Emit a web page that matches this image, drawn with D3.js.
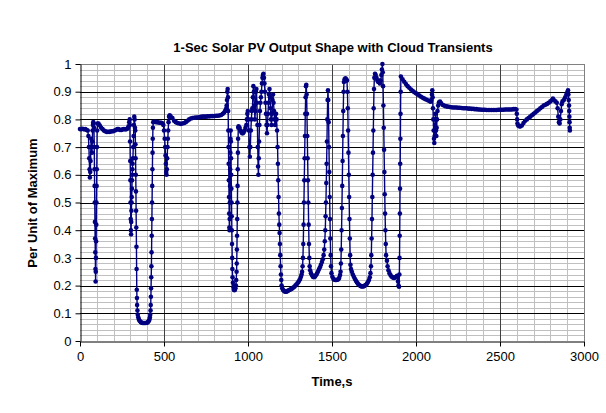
<!DOCTYPE html>
<html><head><meta charset="utf-8">
<script src="https://cdn.jsdelivr.net/npm/d3@7/dist/d3.min.js"></script>
<style>
html,body{margin:0;padding:0;background:#fff;}
text{font-family:"Liberation Sans",Arial,sans-serif;}
</style></head>
<body><svg id="chart" width="606" height="413"></svg>
<script>
const chartTitle = "1-Sec Solar PV Output Shape with Cloud Transients";
const xTitle = "Time,s";
const yTitle = "Per Unit of Maximum";
const xTicks = [0, 500, 1000, 1500, 2000, 2500, 3000];
const yTicks = [0, 0.1, 0.2, 0.3, 0.4, 0.5, 0.6, 0.7, 0.8, 0.9, 1];
const yTickLabels = ["0","0.1","0.2","0.3","0.4","0.5","0.6","0.7","0.8","0.9","1"];

// [time (s), per-unit output]
const pvPoints = [
[0,0.765],[8,0.765],[16,0.766],[24,0.764],[32,0.765],[40,0.762],[46,0.76],
[50,0.74],[53,0.70],[55,0.66],[57,0.62],[59,0.59],[61,0.61],[63,0.65],[65,0.70],[67,0.73],[69,0.70],[71,0.68],[73,0.72],[75,0.76],[77,0.78],[79,0.79],[81,0.785],[83,0.77],
[85,0.70],[86,0.62],[87,0.56],[88,0.50],[89,0.43],[90,0.37],[91,0.32],[92,0.26],[93,0.215],[94,0.25],[95,0.30],[96,0.36],[97,0.42],[98,0.50],[99,0.56],[100,0.62],[101,0.70],[102,0.76],[104,0.785],
[110,0.785],[118,0.778],[126,0.77],[134,0.765],[142,0.76],[150,0.757],[158,0.755],[166,0.755],[174,0.755],[182,0.756],[190,0.757],[198,0.757],[206,0.76],[214,0.762],[222,0.765],[230,0.765],[238,0.762],[246,0.762],[254,0.764],[262,0.765],[270,0.764],[278,0.765],[284,0.768],[289,0.775],[293,0.79],[296,0.80],
[297,0.78],[298,0.72],[299,0.65],[300,0.58],[301,0.50],[302,0.44],[303,0.40],[304,0.385],[305,0.43],[306,0.47],[307,0.50],[308,0.52],[309,0.55],[310,0.58],[311,0.60],[312,0.62],[313,0.64],[315,0.66],[317,0.70],[319,0.74],[321,0.78],[323,0.81],[325,0.80],[327,0.77],
[329,0.76],[330,0.71],[331,0.66],[332,0.60],[333,0.54],[334,0.47],[335,0.41],[336,0.34],[337,0.26],[338,0.185],[339,0.155],[340,0.13],[342,0.11],[344,0.095],[347,0.085],[351,0.077],[356,0.072],[362,0.068],[368,0.066],[374,0.065],[380,0.065],[386,0.065],[392,0.065],[398,0.066],[404,0.068],[409,0.072],[413,0.077],[416,0.085],[418,0.095],[420,0.11],[421,0.13],[422,0.16],[423,0.19],[424,0.23],[425,0.27],[426,0.32],[427,0.38],[428,0.44],[429,0.50],[430,0.56],[431,0.62],[432,0.68],[433,0.73],[434,0.77],[436,0.79],
[444,0.792],[452,0.79],[460,0.79],[468,0.789],[476,0.788],[484,0.788],[490,0.786],[496,0.78],
[500,0.76],[504,0.73],[507,0.70],[509,0.67],[511,0.64],[513,0.61],[515,0.60],[517,0.62],[519,0.66],[521,0.70],[523,0.73],[525,0.76],[527,0.79],[530,0.81],[534,0.815],
[540,0.81],[550,0.805],[560,0.795],[570,0.79],[580,0.787],[590,0.785],[600,0.784],[610,0.785],[620,0.787],[630,0.79],[640,0.795],[650,0.80],[660,0.803],[670,0.805],[680,0.806],[690,0.807],[700,0.807],[710,0.808],[720,0.809],[730,0.81],[740,0.81],[750,0.81],[760,0.811],[770,0.811],[780,0.812],[790,0.812],[800,0.812],[810,0.813],[820,0.813],[830,0.814],[840,0.816],[850,0.82],[858,0.825],[864,0.83],[868,0.835],
[871,0.84],[873,0.85],[875,0.87],[877,0.90],[879,0.91],[881,0.88],[882,0.83],[883,0.76],[884,0.70],[885,0.64],[886,0.58],[887,0.52],[888,0.46],[889,0.41],[890,0.40],[891,0.44],[892,0.50],[893,0.56],[894,0.62],[895,0.68],[896,0.73],[897,0.76],[898,0.72],[899,0.66],[900,0.60],[901,0.55],[902,0.50],[903,0.45],[904,0.40],[905,0.35],[906,0.30],[907,0.26],[908,0.23],[910,0.21],[913,0.195],[916,0.185],[919,0.183],[922,0.185],[925,0.19],[928,0.20],[930,0.22],[932,0.25],[933,0.28],[934,0.33],[935,0.38],[936,0.44],[937,0.50],[938,0.56],[939,0.62],[940,0.68],[941,0.73],[942,0.77],[944,0.775],
[950,0.77],[955,0.76],[960,0.755],[965,0.75],[970,0.75],[975,0.755],[980,0.76],[985,0.77],[990,0.78],[993,0.80],[996,0.82],[999,0.83],[1002,0.80],[1005,0.76],[1008,0.70],[1011,0.665],[1014,0.70],[1017,0.76],[1020,0.80],[1023,0.83],[1026,0.84],[1029,0.88],[1032,0.92],[1035,0.90],[1038,0.85],[1041,0.80],[1044,0.83],[1047,0.90],[1050,0.91],[1053,0.86],[1056,0.78],[1058,0.70],[1060,0.63],[1062,0.60],[1064,0.66],[1066,0.72],[1068,0.78],[1071,0.83],[1074,0.86],[1077,0.88],[1080,0.90],[1083,0.93],[1086,0.95],[1089,0.96],[1092,0.965],[1095,0.95],[1098,0.93],[1101,0.90],[1104,0.86],[1107,0.82],[1110,0.78],[1113,0.75],[1116,0.78],[1119,0.82],[1122,0.86],[1125,0.89],[1128,0.91],[1131,0.88],[1134,0.84],[1137,0.80],[1140,0.78],[1143,0.82],[1146,0.87],[1149,0.89],[1152,0.86],[1155,0.83],[1158,0.80],[1161,0.78],[1164,0.80],[1167,0.82],[1170,0.80],[1173,0.76],[1176,0.70],[1178,0.64],[1180,0.58],[1182,0.52],[1184,0.46],[1186,0.42],[1188,0.39],[1190,0.35],[1192,0.31],[1194,0.27],[1196,0.24],[1198,0.22],
[1200,0.20],[1204,0.19],[1210,0.183],[1216,0.18],[1222,0.178],[1228,0.178],[1234,0.18],[1240,0.182],[1246,0.184],[1252,0.186],[1258,0.188],[1264,0.19],[1270,0.193],[1276,0.196],[1282,0.2],[1288,0.204],[1294,0.208],[1300,0.213],[1305,0.218],[1310,0.224],[1315,0.232],[1319,0.24],[1322,0.25],[1325,0.27],[1327,0.30],[1329,0.35],[1331,0.42],[1333,0.50],[1335,0.58],[1337,0.66],[1339,0.74],[1341,0.82],[1343,0.88],[1345,0.92],[1347,0.925],[1349,0.89],[1351,0.82],[1353,0.74],[1355,0.66],[1357,0.58],[1359,0.50],[1361,0.42],[1363,0.35],[1365,0.30],[1367,0.27],
[1370,0.255],[1375,0.245],[1380,0.238],[1386,0.232],[1392,0.23],[1398,0.232],[1404,0.237],[1410,0.243],[1416,0.25],[1422,0.258],[1428,0.266],[1434,0.275],[1440,0.285],[1445,0.295],[1450,0.31],[1454,0.33],[1457,0.36],[1460,0.40],[1462,0.45],[1464,0.50],[1466,0.57],[1468,0.64],[1470,0.72],[1472,0.80],[1474,0.87],[1476,0.905],[1478,0.87],[1480,0.79],[1482,0.70],[1484,0.61],[1486,0.52],[1488,0.44],[1490,0.37],[1492,0.31],[1494,0.27],
[1497,0.245],[1502,0.232],[1508,0.225],[1514,0.221],[1520,0.22],[1526,0.22],[1532,0.221],[1538,0.223],[1543,0.228],[1548,0.238],[1551,0.25],[1553,0.28],[1555,0.33],[1557,0.40],[1559,0.48],[1561,0.56],[1563,0.65],[1565,0.74],[1567,0.83],[1569,0.90],[1571,0.935],[1575,0.945],[1580,0.948],[1585,0.945],[1589,0.94],[1592,0.90],[1594,0.84],[1596,0.76],[1598,0.68],[1600,0.60],[1602,0.52],[1604,0.44],[1606,0.37],[1608,0.31],[1610,0.275],
[1613,0.26],[1618,0.25],[1624,0.24],[1630,0.232],[1636,0.225],[1642,0.218],[1648,0.212],[1654,0.207],[1660,0.203],[1666,0.2],[1672,0.198],[1678,0.197],[1684,0.197],[1690,0.198],[1696,0.2],[1702,0.203],[1708,0.207],[1714,0.213],[1720,0.22],[1725,0.23],[1729,0.245],[1732,0.27],[1734,0.31],[1736,0.37],[1738,0.44],[1740,0.52],[1742,0.60],[1744,0.68],[1746,0.76],[1748,0.84],[1750,0.91],[1752,0.95],[1756,0.965],[1760,0.96],[1765,0.95],[1770,0.94],[1775,0.935],[1780,0.94],[1785,0.93],[1790,0.94],[1794,0.96],[1797,0.98],[1800,1.0],[1802,0.97],[1804,0.92],[1806,0.85],[1808,0.77],[1810,0.69],[1812,0.61],[1814,0.53],[1816,0.46],[1818,0.40],[1820,0.35],[1822,0.31],
[1827,0.29],[1831,0.27],[1836,0.255],[1842,0.245],[1848,0.238],[1854,0.233],[1860,0.23],[1866,0.228],[1872,0.228],[1878,0.23],[1883,0.232],[1887,0.235],[1890,0.23],[1893,0.215],[1896,0.2],[1899,0.196],[1901,0.24],[1902,0.30],[1903,0.38],[1904,0.46],[1905,0.55],[1906,0.64],[1907,0.73],[1908,0.82],[1909,0.90],[1910,0.955],
[1920,0.945],[1930,0.936],[1940,0.928],[1950,0.92],[1960,0.914],[1970,0.908],[1980,0.903],[1990,0.898],[2000,0.894],[2010,0.89],[2020,0.886],[2030,0.882],[2040,0.878],[2050,0.875],[2060,0.872],[2070,0.869],[2080,0.866],[2088,0.864],[2092,0.87],[2095,0.89],[2097,0.905],[2099,0.88],[2101,0.84],[2103,0.80],[2105,0.76],[2107,0.73],[2109,0.715],[2111,0.74],[2113,0.78],[2115,0.82],[2117,0.80],[2119,0.76],[2121,0.74],[2123,0.77],[2125,0.80],[2128,0.83],[2132,0.85],[2137,0.862],[2143,0.864],
[2150,0.858],[2160,0.852],[2170,0.849],[2180,0.847],[2190,0.846],[2200,0.845],[2210,0.844],[2220,0.843],[2230,0.843],[2240,0.843],[2250,0.842],[2260,0.842],[2270,0.841],[2280,0.84],[2290,0.84],[2300,0.84],[2310,0.839],[2320,0.839],[2330,0.838],[2340,0.838],[2350,0.837],[2360,0.837],[2370,0.836],[2380,0.836],[2390,0.835],[2400,0.835],[2410,0.835],[2420,0.834],[2430,0.834],[2440,0.834],[2450,0.834],[2460,0.834],[2470,0.834],[2480,0.834],[2490,0.835],[2500,0.835],[2510,0.835],[2520,0.835],[2530,0.836],[2540,0.836],[2550,0.836],[2560,0.836],[2570,0.836],[2580,0.837],[2590,0.837],[2598,0.836],
[2600,0.82],[2602,0.80],[2604,0.785],[2608,0.778],[2615,0.775],[2622,0.775],[2630,0.778],[2640,0.787],[2650,0.795],[2660,0.80],[2670,0.805],[2680,0.81],[2690,0.815],[2700,0.82],[2710,0.825],[2720,0.83],[2730,0.835],[2740,0.84],[2750,0.845],[2760,0.85],[2770,0.853],[2780,0.856],[2790,0.86],[2800,0.865],[2810,0.87],[2815,0.875],[2820,0.87],[2830,0.865],[2838,0.86],[2843,0.84],[2847,0.81],[2851,0.79],[2855,0.785],[2859,0.80],[2863,0.83],[2867,0.855],[2872,0.865],[2880,0.87],[2888,0.88],[2895,0.89],[2900,0.895],[2903,0.90],[2905,0.905],[2907,0.89],[2909,0.87],[2911,0.85],[2912,0.83],[2913,0.81],[2914,0.79],[2915,0.77],[2916,0.76]
];

const svg = d3.select("#chart");
const m = {left: 80, right: 22, top: 64, bottom: 72};
const W = 606, H = 413;
const x = d3.scaleLinear().domain([0, 3000]).range([m.left, W - m.right]);
const y = d3.scaleLinear().domain([0, 1]).range([H - m.bottom, m.top]);
const navy = "#000080";

const g = svg.append("g");
// minor horizontal grid (0.02)
const minorY = d3.range(0, 51).map(i => i / 50).filter(v => Math.round(v * 50) % 5 !== 0);
g.selectAll(".hminor").data(minorY).enter().append("line")
  .attr("x1", x(0)).attr("x2", x(3000))
  .attr("y1", d => Math.round(y(d)) + 0.5).attr("y2", d => Math.round(y(d)) + 0.5)
  .attr("stroke", "#c0c0c0").attr("stroke-width", 1);
// minor vertical grid (100)
const minorX = d3.range(100, 3000, 100).filter(v => v % 500 !== 0);
g.selectAll(".vminor").data(minorX).enter().append("line")
  .attr("x1", d => Math.round(x(d)) + 0.5).attr("x2", d => Math.round(x(d)) + 0.5)
  .attr("y1", y(0)).attr("y2", y(1))
  .attr("stroke", "#c0c0c0").attr("stroke-width", 1);
// major vertical grid
g.selectAll(".vmajor").data(xTicks.filter(v => v > 0 && v < 3000)).enter().append("line")
  .attr("x1", d => Math.round(x(d)) + 0.5).attr("x2", d => Math.round(x(d)) + 0.5)
  .attr("y1", y(0)).attr("y2", y(1))
  .attr("stroke", "#404040").attr("stroke-width", 1);
// major horizontal grid
g.selectAll(".hmajor").data(yTicks.filter(v => v > 0 && v < 1)).enter().append("line")
  .attr("x1", x(0)).attr("x2", x(3000))
  .attr("y1", d => Math.round(y(d)) + 0.5).attr("y2", d => Math.round(y(d)) + 0.5)
  .attr("stroke", "#000").attr("stroke-width", 1);
// plot border (top/right grey)
g.append("line").attr("x1", x(0)).attr("x2", x(3000)).attr("y1", Math.round(y(1)) + 0.5).attr("y2", Math.round(y(1)) + 0.5).attr("stroke", "#808080");
g.append("line").attr("x1", Math.round(x(3000)) + 0.5).attr("x2", Math.round(x(3000)) + 0.5).attr("y1", y(1)).attr("y2", y(0)).attr("stroke", "#808080");

// axes
const xAxis = d3.axisBottom(x).tickValues(xTicks).tickSize(5).tickSizeOuter(0).tickFormat(d3.format("d"));
const yAxis = d3.axisLeft(y).tickValues(yTicks).tickSize(5).tickSizeOuter(0).tickFormat((d, i) => yTickLabels[i]);
const gx = svg.append("g").attr("transform", `translate(0,${Math.round(y(0)) + 0.5})`).call(xAxis);
const gy = svg.append("g").attr("transform", `translate(${Math.round(x(0)) + 0.5},0)`).call(yAxis);
[gx, gy].forEach(a => {
  a.select(".domain").attr("stroke", "#000");
  a.selectAll(".tick line").attr("stroke", "#000");
  a.selectAll("text").attr("font-size", 13).attr("fill", "#000")
    .style("font-family", "'Liberation Sans', Arial, sans-serif");
});
gx.selectAll("text").attr("dy", "0.95em").attr("y", 7);
gy.selectAll("text").attr("x", -9);

// series
const line = d3.line().x(d => x(d[0])).y(d => y(d[1]));
svg.append("path").datum(pvPoints).attr("d", line)
  .attr("fill", "none").attr("stroke", navy).attr("stroke-width", 1.4);
svg.append("g").selectAll("circle").data(pvPoints).enter().append("circle")
  .attr("cx", d => x(d[0])).attr("cy", d => y(d[1])).attr("r", 2.3).attr("fill", navy);

// titles
svg.append("text").attr("x", 333).attr("y", 52).attr("text-anchor", "middle")
  .attr("font-size", 13).attr("font-weight", "bold").text(chartTitle);
svg.append("text").attr("x", 332).attr("y", 386).attr("text-anchor", "middle")
  .attr("font-size", 13).attr("font-weight", "bold").text(xTitle);
svg.append("text").attr("transform", "translate(37,203) rotate(-90)").attr("text-anchor", "middle")
  .attr("font-size", 13).attr("font-weight", "bold").text(yTitle);
</script>
</body></html>
